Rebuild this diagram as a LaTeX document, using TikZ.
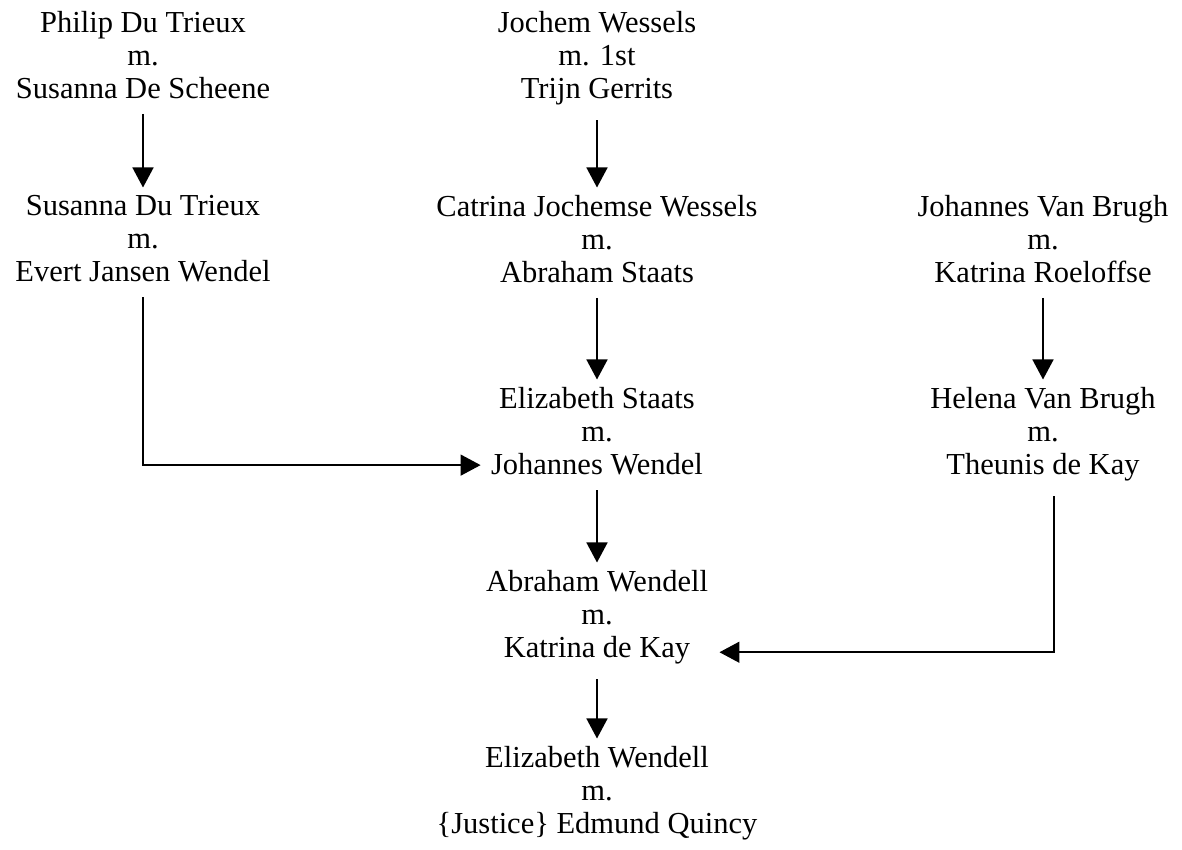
\documentclass[tikz,border=0pt]{standalone}
\usepackage{fontspec}
\setmainfont{Liberation Serif}
\usetikzlibrary{arrows.meta}
\begin{document}
\begin{tikzpicture}[
    x=0.4pt, y=-0.4pt,
    person/.style={align=center, inner sep=0pt, anchor=north, font=\fontsize{12.2pt}{13.1pt}\selectfont},
    link/.style={-{Triangle[width=8.4pt,length=8pt]}, line width=0.6pt, shorten <=6pt, shorten >=3pt}
]
    \useasboundingbox (0,0) rectangle (1182,850);

    % first generation
    \node[person] (philip) at (143,11) {Philip Du Trieux\\m.\\Susanna De Scheene};
    \node[person] (jochem) at (597,11) {Jochem Wessels\\m. 1st\\Trijn Gerrits};

    \node[person] (susanna) at (143,195) {Susanna Du Trieux\\m.\\Evert Jansen Wendel};
    \node[person] (catrina) at (597,195) {Catrina Jochemse Wessels\\m.\\Abraham Staats};
    \node[person] (johannes) at (1043,195) {Johannes Van Brugh\\m.\\Katrina Roeloffse};

    \node[person] (elizabeth) at (597,387) {Elizabeth Staats\\m.\\Johannes Wendel};
    \node[person] (helena) at (1043,387) {Helena Van Brugh\\m.\\Theunis de Kay};

    \node[person] (abraham) at (597,570) {Abraham Wendell\\m.\\Katrina de Kay};
    \node[person] (edmund) at (597,746) {Elizabeth Wendell\\m.\\\{Justice\} Edmund Quincy};

    \draw[link] (philip) -- (susanna);
    \draw[link] (jochem) -- (catrina);
    \draw[link] (catrina) -- (elizabeth);
    \draw[link] (johannes) -- (helena);
    \draw[link] (elizabeth) -- (abraham);
    \draw[link] (abraham) -- (edmund);

    % lines joining the families
    \draw[link, shorten >=4pt] (susanna.south) |- ([yshift=4pt]elizabeth.south west);
    \draw[link, shorten >=4.4pt] ([xshift=4.4pt]helena.south) |- ([yshift=4.8pt]abraham.south east);
\end{tikzpicture}
\end{document}
